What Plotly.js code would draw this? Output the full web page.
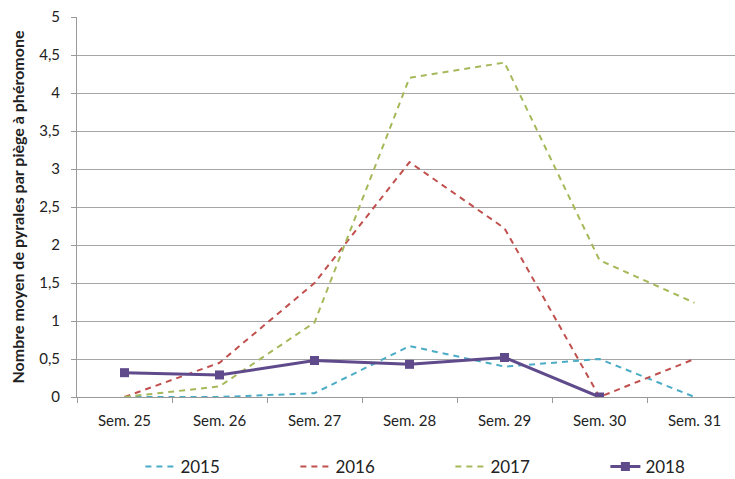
<!DOCTYPE html>
<html>
<head>
<meta charset="utf-8">
<script src="https://cdn.plot.ly/plotly-3.0.1.min.js"></script>
<style>html,body{margin:0;padding:0;background:#fff;}#chart{width:735px;height:479px;}</style>
</head>
<body>
<div id="chart"></div>
<script>
const weeks = ["Sem. 25","Sem. 26","Sem. 27","Sem. 28","Sem. 29","Sem. 30","Sem. 31"];
const y2015 = [0, 0, 0.05, 0.67, 0.40, 0.50, 0];
const y2016 = [0, 0.45, 1.5, 3.09, 2.22, 0, 0.5];
const y2017 = [0, 0.14, 0.98, 4.2, 4.4, 1.8, 1.24];
const y2018 = [0.32, 0.29, 0.48, 0.43, 0.52, 0];
const seriesNames = ["2015","2016","2017","2018"];

const FONT = 'Lato, "DejaVu Sans Condensed", sans-serif';

const traces = [
  {x: weeks, y: y2015, name: seriesNames[0], mode: 'lines', line: {color: '#4bacc6', width: 2, dash: '6px,5px'}},
  {x: weeks, y: y2016, name: seriesNames[1], mode: 'lines', line: {color: '#c0504d', width: 2, dash: '6px,5px'}},
  {x: weeks, y: y2017, name: seriesNames[2], mode: 'lines', line: {color: '#a5b95a', width: 2, dash: '6px,5px'}},
  {x: weeks.slice(0, y2018.length), y: y2018, name: seriesNames[3], mode: 'lines+markers',
   line: {color: '#5f4a8b', width: 3}, marker: {symbol: 'square', size: 9, color: '#5f4a8b'}}
];

const layout = {
  width: 735, height: 479,
  margin: {l: 77, r: 0, t: 17, b: 82, autoexpand: false},
  paper_bgcolor: '#fff', plot_bgcolor: '#fff',
  separators: ', ',
  font: {family: FONT, size: 15, color: '#222'},
  showlegend: true,
  legend: {orientation: 'h', xref: 'container', yref: 'container',
           x: 0.191, xanchor: 'left', y: 0.025, yanchor: 'middle',
           entrywidth: 110, entrywidthmode: 'pixels', font: {family: FONT, size: 17, color: '#222'}},
  xaxis: {
    type: 'category', range: [-0.5, 6.426], tickson: 'boundaries',
    ticks: 'outside', ticklen: 5, tickcolor: '#999', showgrid: false,
    showline: true, linecolor: '#999', linewidth: 1, zeroline: false,
    automargin: false, ticklabelstandoff: 10,
    tickfont: {family: FONT, size: 15, color: '#222'}
  },
  yaxis: {
    range: [0, 5], dtick: 0.5, tick0: 0,
    ticks: 'outside', ticklen: 5, tickcolor: '#999',
    showgrid: true, gridcolor: '#a6a6a6', gridwidth: 1,
    showline: true, linecolor: '#999', linewidth: 1, zeroline: false,
    automargin: false, ticklabelstandoff: 8,
    tickfont: {family: FONT, size: 15, color: '#222'},
    title: {text: 'Nombre moyen de pyrales par piège à phéromone', standoff: 10,
            font: {family: FONT, size: 16, color: '#222', weight: 'bold'}}
  }
};

Plotly.newPlot('chart', traces, layout, {displayModeBar: false, staticPlot: true});
</script>
</body>
</html>
